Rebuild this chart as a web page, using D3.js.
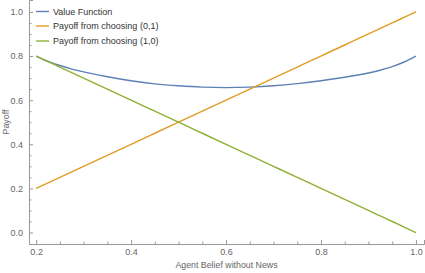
<!DOCTYPE html>
<html>
<head>
<meta charset="utf-8">
<script src="https://cdn.jsdelivr.net/npm/d3@7"></script>
<style>
  body { margin: 0; background: #fff; }
  svg { display: block; font-family: "Liberation Sans", Arial, sans-serif; }
</style>
</head>
<body>
<div id="chart"></div>
<script>
// belief grid and read-off values
const beliefs = [0.2, 0.225, 0.25, 0.275, 0.3, 0.35, 0.4, 0.45, 0.5, 0.55, 0.6, 0.65, 0.7, 0.75, 0.8, 0.85, 0.9, 0.925, 0.95, 0.975, 1.0];
const valueFunction = [0.800, 0.776, 0.757, 0.741, 0.728, 0.706, 0.688, 0.674, 0.665, 0.659, 0.657, 0.659, 0.665, 0.675, 0.688, 0.704, 0.723, 0.736, 0.752, 0.773, 0.800];
const payoff01 = [0.2, 0.225, 0.25, 0.275, 0.3, 0.35, 0.4, 0.45, 0.5, 0.55, 0.6, 0.65, 0.7, 0.75, 0.8, 0.85, 0.9, 0.925, 0.95, 0.975, 1.0];
const payoff10 = [0.8, 0.775, 0.75, 0.725, 0.7, 0.65, 0.6, 0.55, 0.5, 0.45, 0.4, 0.35, 0.3, 0.25, 0.2, 0.15, 0.1, 0.075, 0.05, 0.025, 0.0];

const seriesNames = ['Value Function', 'Payoff from choosing (0,1)', 'Payoff from choosing (1,0)'];
const seriesColors = ['#5e81b5', '#e19c24', '#8fb032'];
const xTicks = [0.2, 0.4, 0.6, 0.8, 1.0];
const yTicks = [0.0, 0.2, 0.4, 0.6, 0.8, 1.0];

const width = 425, height = 273;

const svg = d3.select('#chart').append('svg')
    .attr('width', width)
    .attr('height', height);

// padded plot range, like the frame in the original
const x = d3.scaleLinear().domain([0.185, 1.017]).range([29, 424]);
const y = d3.scaleLinear().domain([-0.052, 1.054]).range([244, 0]);

const axisColor = '#999';
const labelColor = '#666';

// x axis: major + minor ticks pointing inward
const xMinor = d3.range(0.2, 1.0001, 0.05).filter(v => !xTicks.some(t => Math.abs(t - v) < 1e-6));
const yMinor = d3.range(0.0, 1.0001, 0.05).filter(v => !yTicks.some(t => Math.abs(t - v) < 1e-6));

const gx = svg.append('g').attr('transform', `translate(0,${y.range()[0]})`);
gx.call(d3.axisBottom(x).tickValues(xTicks).tickSize(-4).tickPadding(5).tickFormat(d3.format('.1f')));
gx.append('g').call(d3.axisBottom(x).tickValues(xMinor).tickSize(-2.5).tickFormat(''))
    .select('.domain').remove();

const gy = svg.append('g').attr('transform', `translate(${x.range()[0]},0)`);
gy.call(d3.axisLeft(y).tickValues(yTicks).tickSize(-4).tickPadding(6).tickFormat(d3.format('.1f')));
gy.append('g').call(d3.axisLeft(y).tickValues(yMinor).tickSize(-2.5).tickFormat(''))
    .select('.domain').remove();

svg.selectAll('.domain').attr('stroke', axisColor);
svg.selectAll('.tick line').attr('stroke', axisColor);
svg.selectAll('.tick text')
    .attr('fill', labelColor)
    .style('font-size', '9px')
    .style('font-family', '"Liberation Sans", Arial, sans-serif');

// axis titles
svg.append('text')
    .attr('x', (x.range()[0] + x.range()[1]) / 2)
    .attr('y', 268)
    .attr('text-anchor', 'middle')
    .attr('fill', labelColor)
    .style('font-size', '8.8px')
    .text('Agent Belief without News');

svg.append('text')
    .attr('transform', 'translate(9,122) rotate(-90)')
    .attr('text-anchor', 'middle')
    .attr('fill', labelColor)
    .style('font-size', '8.8px')
    .text('Payoff');

// lines (natural spline keeps the straight payoffs straight)
const series = [valueFunction, payoff01, payoff10];
const line = d3.line()
    .x((d, i) => x(beliefs[i]))
    .y(d => y(d))
    .curve(d3.curveNatural);

series.forEach((vals, i) => {
    svg.append('path')
        .datum(vals)
        .attr('fill', 'none')
        .attr('stroke', seriesColors[i])
        .attr('stroke-width', 1.4)
        .attr('d', line);
});

// legend
const legend = svg.append('g');
const legendY = [11.5, 26, 41];
seriesNames.forEach((name, i) => {
    legend.append('line')
        .attr('x1', 36).attr('x2', 49)
        .attr('y1', legendY[i]).attr('y2', legendY[i])
        .attr('stroke', seriesColors[i])
        .attr('stroke-width', 1.4);
    legend.append('text')
        .attr('x', 53)
        .attr('y', legendY[i])
        .attr('dy', '0.35em')
        .attr('fill', '#333')
        .style('font-size', '9px')
        .text(name);
});
</script>
</body>
</html>
